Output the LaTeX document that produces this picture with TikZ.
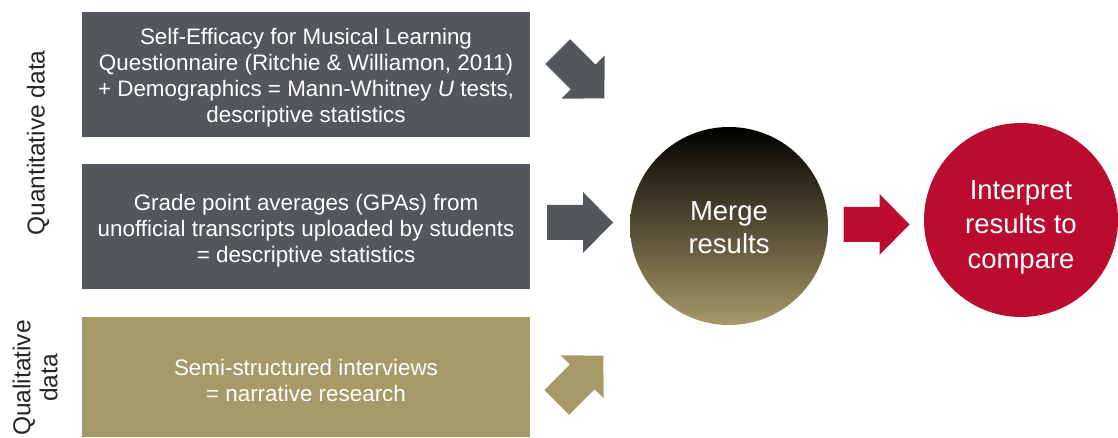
\documentclass[tikz,border=0pt]{standalone}
\usepackage{fontspec}
\setmainfont{Liberation Sans}
\begin{document}
\begin{tikzpicture}[x=1pt,y=1pt]
  \definecolor{slate}{HTML}{53565A}
  \definecolor{sand}{HTML}{A89968}
  \definecolor{crimson}{HTML}{BA0C2F}
  \tikzset{
    databox/.style={rectangle, inner sep=0pt, minimum width=448},
    boxtext/.style={inner sep=0pt, text=white, align=center,
      font=\fontsize{22.4}{26}\selectfont},
    roundel/.style={circle, inner sep=0pt},
    roundtext/.style={inner sep=0pt, text=white, align=center},
    sidelabel/.style={rotate=90, align=center, text=black!85,
      font=\fontsize{24.5}{27}\selectfont},
    blockarrow/.pic={
      \fill[pic actions] (-33,-17.5) -- (3,-17.5) -- (3,-30.5) -- (33,0)
        -- (3,30.5) -- (3,17.5) -- (-33,17.5) -- cycle;
    }
  }
  \useasboundingbox (0,0) rectangle (1118,438);

  % input boxes
  \node[databox, fill=slate, minimum height=125] (survey) at (306,363.5) {};
  \node[boxtext] (surveytext) at ([yshift=-3.5]survey.center)
    {Self-Efficacy for Musical Learning\\
     Questionnaire (Ritchie \& Williamon, 2011)\\
     + Demographics = Mann-Whitney \textit{U} tests,\\
     descriptive statistics};
  \node[databox, fill=slate, minimum height=125] (gpa) at (306,211.5) {};
  \node[boxtext] (gpatext) at ([yshift=-4]gpa.center)
    {Grade point averages (GPAs) from\\
     unofficial transcripts uploaded by students\\
     = descriptive statistics};
  \node[databox, fill=sand, minimum height=120] (interviews) at (306,61) {};
  \node[boxtext] (interviewstext) at ([yshift=-3.5]interviews.center)
    {Semi-structured interviews\\
     = narrative research};

  % side labels
  \node[sidelabel] (quant) at (38,295) {Quantitative data};
  \node[sidelabel] (qual) at (35,60) {Qualitative\\data};

  % merge and interpret
  \node[roundel, minimum size=198, top color=black, bottom color=sand]
    (merge) at (729,212) {};
  \node[roundtext, font=\fontsize{27.5}{33}\selectfont] (mergetext)
    at ([yshift=-2]merge.center) {Merge\\results};
  \node[roundel, minimum size=194, fill=crimson] (interpret) at (1021,218) {};
  \node[roundtext, font=\fontsize{27.5}{34.5}\selectfont] (interprettext)
    at ([yshift=-7]interpret.center) {Interpret\\results to\\compare};

  % block arrows
  \pic[fill=slate, rotate=-45] (arrowA) at (581,363) {blockarrow};
  \pic[fill=slate] (arrowB) at (580,215.5) {blockarrow};
  \pic[fill=sand, rotate=45] (arrowC) at (580,59) {blockarrow};
  \pic[fill=crimson] (arrowD) at (876.5,213.5) {blockarrow};
\end{tikzpicture}
\end{document}
